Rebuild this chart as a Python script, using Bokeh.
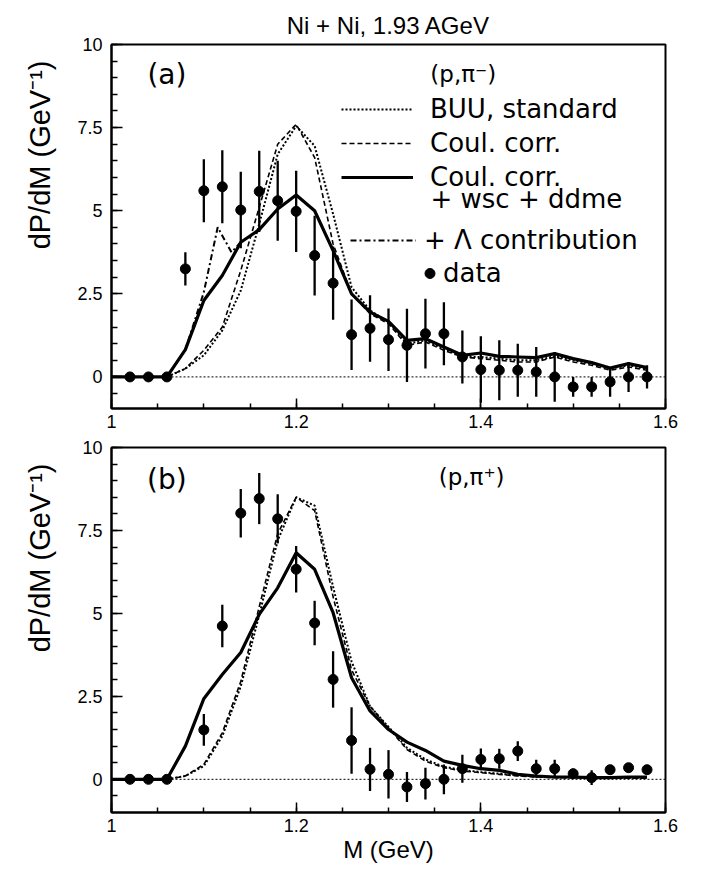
import numpy as np
from bokeh.plotting import figure
from bokeh.layouts import column
from bokeh.models import (Range1d, Span, Label, Legend, LegendItem, FixedTicker, Title)
from bokeh.embed import file_html
from bokeh.resources import INLINE

# ---------------- data ----------------
title_text = "Ni + Ni, 1.93 AGeV"
ylabel_text = "dP/dM (GeV\u207b\u00b9)"
xlabel_text = "M (GeV)"

x_ticks = [1.0, 1.2, 1.4, 1.6]
x_tick_labels = ["1", "1.2", "1.4", "1.6"]
y_ticks = [0, 2.5, 5, 7.5, 10]
y_tick_labels = ["0", "2.5", "5", "7.5", "10"]

# model curves grid (GeV)
m_grid = [1.00, 1.02, 1.04, 1.06, 1.08, 1.10, 1.12, 1.14, 1.16, 1.18, 1.20,
          1.22, 1.24, 1.26, 1.28, 1.30, 1.32, 1.34, 1.36, 1.38, 1.40, 1.42,
          1.44, 1.46, 1.48, 1.50, 1.52, 1.54, 1.56, 1.58]

# panel (a): (p, pi-)
a_buu = [0, 0, 0, 0, 0.25, 0.65, 1.4, 2.6, 4.6, 6.7, 7.55, 6.95, 4.9, 2.7, 2.0,
         1.65, 1.0, 1.1, 0.85, 0.6, 0.6, 0.55, 0.5, 0.5, 0.62, 0.5, 0.4, 0.25, 0.35, 0.25]
a_coul = [0, 0, 0, 0, 0.25, 0.8, 1.5, 3.2, 5.1, 7.0, 7.6, 6.6, 4.0, 2.5, 1.9,
          1.6, 0.95, 1.05, 0.8, 0.6, 0.55, 0.5, 0.45, 0.45, 0.6, 0.45, 0.35, 0.2, 0.3, 0.2]
a_wsc = [0, 0, 0, 0, 0.82, 2.3, 3.05, 4.05, 4.43, 5.05, 5.47, 5.0, 3.8, 2.5, 1.95,
         1.67, 1.1, 1.15, 0.9, 0.65, 0.72, 0.62, 0.6, 0.58, 0.7, 0.55, 0.43, 0.27, 0.4, 0.28]
a_lam_m = [1.06, 1.08, 1.10, 1.115, 1.13, 1.14]
a_lam = [0, 0.82, 2.55, 4.5, 3.75, 4.05]

a_data_m = [1.02, 1.04, 1.06, 1.08, 1.10, 1.12, 1.14, 1.16, 1.18, 1.20, 1.22, 1.24,
            1.26, 1.28, 1.30, 1.32, 1.34, 1.36, 1.38, 1.40, 1.42, 1.44, 1.46, 1.48,
            1.50, 1.52, 1.54, 1.56, 1.58]
a_data = [0, 0, 0, 3.25, 5.6, 5.72, 5.02, 5.58, 5.3, 4.98, 3.65, 2.82, 1.27, 1.46,
          1.12, 0.95, 1.3, 1.3, 0.6, 0.22, 0.2, 0.2, 0.15, 0.0, -0.3, -0.3, -0.15, 0.0, 0.0]
a_err = [0, 0, 0, 0.5, 0.95, 1.1, 1.15, 1.22, 1.2, 1.22, 1.2, 1.1, 1.06, 1.0, 0.94,
         1.1, 1.05, 0.95, 0.8, 1.0, 0.9, 0.8, 0.75, 0.75, 0.3, 0.3, 0.45, 0.45, 0.35]

# panel (b): (p, pi+)
b_buu = [0, 0, 0, 0, 0.1, 0.4, 1.3, 2.8, 4.95, 7.2, 8.5, 8.25, 5.8, 3.55, 2.2,
         1.58, 0.95, 0.6, 0.38, 0.28, 0.22, 0.17, 0.12, 0.08, 0.06, 0.05, 0.05, 0.04, 0.04, 0.04]
b_coul = [0, 0, 0, 0, 0.1, 0.45, 1.4, 2.95, 5.2, 7.4, 8.5, 8.1, 5.5, 3.3, 2.2,
          1.55, 0.9, 0.55, 0.35, 0.25, 0.2, 0.15, 0.1, 0.07, 0.05, 0.05, 0.05, 0.03, 0.03, 0.03]
b_wsc = [0, 0, 0, 0, 1.0, 2.43, 3.16, 3.82, 4.97, 5.77, 6.83, 6.33, 5.02, 3.06, 2.06,
         1.5, 1.12, 0.87, 0.55, 0.42, 0.32, 0.27, 0.15, 0.1, 0.07, 0.07, 0.05, 0.05, 0.07, 0.07]

b_data_m = [1.02, 1.04, 1.06, 1.10, 1.12, 1.14, 1.16, 1.18, 1.20, 1.22, 1.24, 1.26,
            1.28, 1.30, 1.32, 1.34, 1.36, 1.38, 1.40, 1.42, 1.44, 1.46, 1.48, 1.50,
            1.52, 1.54, 1.56, 1.58]
b_data = [0, 0, 0, 1.49, 4.62, 8.02, 8.46, 7.85, 6.33, 4.71, 3.01, 1.17, 0.3, 0.15,
          -0.23, -0.13, 0.0, 0.32, 0.6, 0.62, 0.85, 0.32, 0.32, 0.17, 0.05, 0.29, 0.35, 0.29]
b_err = [0, 0, 0, 0.48, 0.64, 0.73, 0.77, 0.74, 0.7, 0.67, 0.85, 1.0, 0.65, 0.73,
         0.45, 0.48, 0.45, 0.42, 0.33, 0.3, 0.3, 0.27, 0.27, 0.15, 0.22, 0.1, 0.12, 0.1]

legend_labels = ["BUU, standard", "Coul. corr.", "Coul. corr.",
                 "+ \u039b contribution", "data"]
legend_extra = "+ wsc + ddme"

TICK_FONT = "Liberation Sans"
GEO_FONT = "DejaVu Sans"


def make_panel(height, ymin, top_border, bottom_border, show_title):
    p = figure(width=688, height=height, x_range=Range1d(1.0, 1.6),
               y_range=Range1d(ymin, 10), output_backend="svg",
               toolbar_location=None, min_border_left=111, min_border_right=23,
               min_border_top=top_border, min_border_bottom=bottom_border)
    p.grid.visible = False
    p.outline_line_color = "black"
    p.outline_line_width = 2
    p.background_fill_color = "white"
    p.border_fill_color = "white"
    for ax in (p.xaxis[0], p.yaxis[0]):
        ax.axis_line_width = 2
        ax.axis_line_color = "black"
        ax.major_tick_out = 0
        ax.minor_tick_out = 0
        ax.major_tick_line_width = 1.5
        ax.minor_tick_line_width = 1.5
        ax.major_label_text_font = TICK_FONT
        ax.major_label_text_font_size = "18px"
        ax.major_label_text_color = "black"
    p.xaxis[0].ticker = FixedTicker(ticks=x_ticks,
                                    minor_ticks=list(np.round(np.arange(1.0, 1.6001, 0.05), 3)))
    p.xaxis[0].major_label_overrides = dict(zip(x_ticks, x_tick_labels))
    p.xaxis[0].major_tick_in = 10
    p.xaxis[0].minor_tick_in = 5
    p.xaxis[0].major_label_standoff = 6
    p.yaxis[0].ticker = FixedTicker(ticks=y_ticks,
                                    minor_ticks=list(np.round(np.arange(-0.5, 10.001, 0.5), 3)))
    p.yaxis[0].major_label_overrides = dict(zip(y_ticks, y_tick_labels))
    p.yaxis[0].major_tick_in = 11
    p.yaxis[0].minor_tick_in = 6
    p.yaxis[0].major_label_standoff = 9
    if show_title:
        p.title.text = title_text
        p.title.align = "center"
        p.title.text_font = TICK_FONT
        p.title.text_font_size = "24px"
        p.title.text_font_style = "normal"
        p.title.text_color = "black"
        p.title.standoff = 12
    p.add_layout(Title(text=ylabel_text, align="right", offset=16, standoff=37,
                       text_font=TICK_FONT, text_font_size="29px", text_color="black",
                       text_font_style="normal"), "left")
    p.add_layout(Span(location=0, dimension="width", line_color="black",
                      line_width=1, line_dash="2 2"))
    return p


def draw(p, buu, coul, wsc, dm, dy, de):
    r_buu = p.line(m_grid, buu, line_color="black", line_width=2, line_dash="2 2")
    r_coul = p.line(m_grid, coul, line_color="black", line_width=1.6, line_dash="5 3")
    r_wsc = p.line(m_grid, wsc, line_color="black", line_width=3.2)
    dm_ = np.array(dm); dy_ = np.array(dy); de_ = np.array(de)
    p.segment(x0=dm_, y0=dy_ - de_, x1=dm_, y1=dy_ + de_, line_color="black", line_width=2.3)
    r_dat = p.scatter(dm_, dy_, marker="circle", size=10, fill_color="black",
                      line_color="black")
    return r_buu, r_coul, r_wsc, r_dat


def label(p, x, y, text, size, align="center"):
    p.add_layout(Label(x=x, y=y, text=text, text_font=GEO_FONT, text_font_size=size,
                       text_color="black", text_align=align, text_baseline="middle"))


# ---------------- panel (a) ----------------
pa = make_panel(435, -0.95, 44, 27, True)
r_buu, r_coul, r_wsc, r_dat = draw(pa, a_buu, a_coul, a_wsc, a_data_m, a_data, a_err)
r_lam = pa.line(a_lam_m, a_lam, line_color="black", line_width=2, line_dash="6 3 2 3")

leg_kw = dict(padding=0, margin=0, border_line_alpha=0, background_fill_alpha=0,
              label_text_font=GEO_FONT, label_text_font_size="26px",
              label_text_color="black", glyph_height=28, label_height=28)
leg1 = Legend(items=[LegendItem(label=legend_labels[0], renderers=[r_buu]),
                     LegendItem(label=legend_labels[1], renderers=[r_coul]),
                     LegendItem(label=legend_labels[2], renderers=[r_wsc])],
              location=(230, 216), glyph_width=72, label_standoff=17, spacing=4, **leg_kw)
leg_lam = Legend(items=[LegendItem(label=legend_labels[3], renderers=[r_lam])],
                 location=(239, 153), glyph_width=66, label_standoff=8, **leg_kw)
leg2 = Legend(items=[LegendItem(label=legend_labels[4], renderers=[r_dat])],
              location=(306, 120), glyph_width=25, label_standoff=1, **leg_kw)
pa.add_layout(leg1)
pa.add_layout(leg_lam)
pa.add_layout(leg2)
label(pa, 1.3455, 5.36, legend_extra, "26px", "left")
label(pa, 1.06, 9.1, "(a)", "28px")
label(pa, 1.381, 9.1, "(p,\u03c0\u207b)", "23px")

# ---------------- panel (b) ----------------
pb = make_panel(435, -1.0, 12, 58, False)
draw(pb, b_buu, b_coul, b_wsc, b_data_m, b_data, b_err)
label(pb, 1.06, 9.05, "(b)", "28px")
label(pb, 1.39, 9.1, "(p,\u03c0\u207a)", "23px")
pb.xaxis[0].axis_label = xlabel_text
pb.xaxis[0].axis_label_text_font = TICK_FONT
pb.xaxis[0].axis_label_text_font_size = "24px"
pb.xaxis[0].axis_label_text_font_style = "normal"
pb.xaxis[0].axis_label_text_color = "black"
pb.xaxis[0].axis_label_standoff = 1

layout = column(pa, pb, spacing=0)
open("out.html", "w").write(file_html(layout, INLINE))
